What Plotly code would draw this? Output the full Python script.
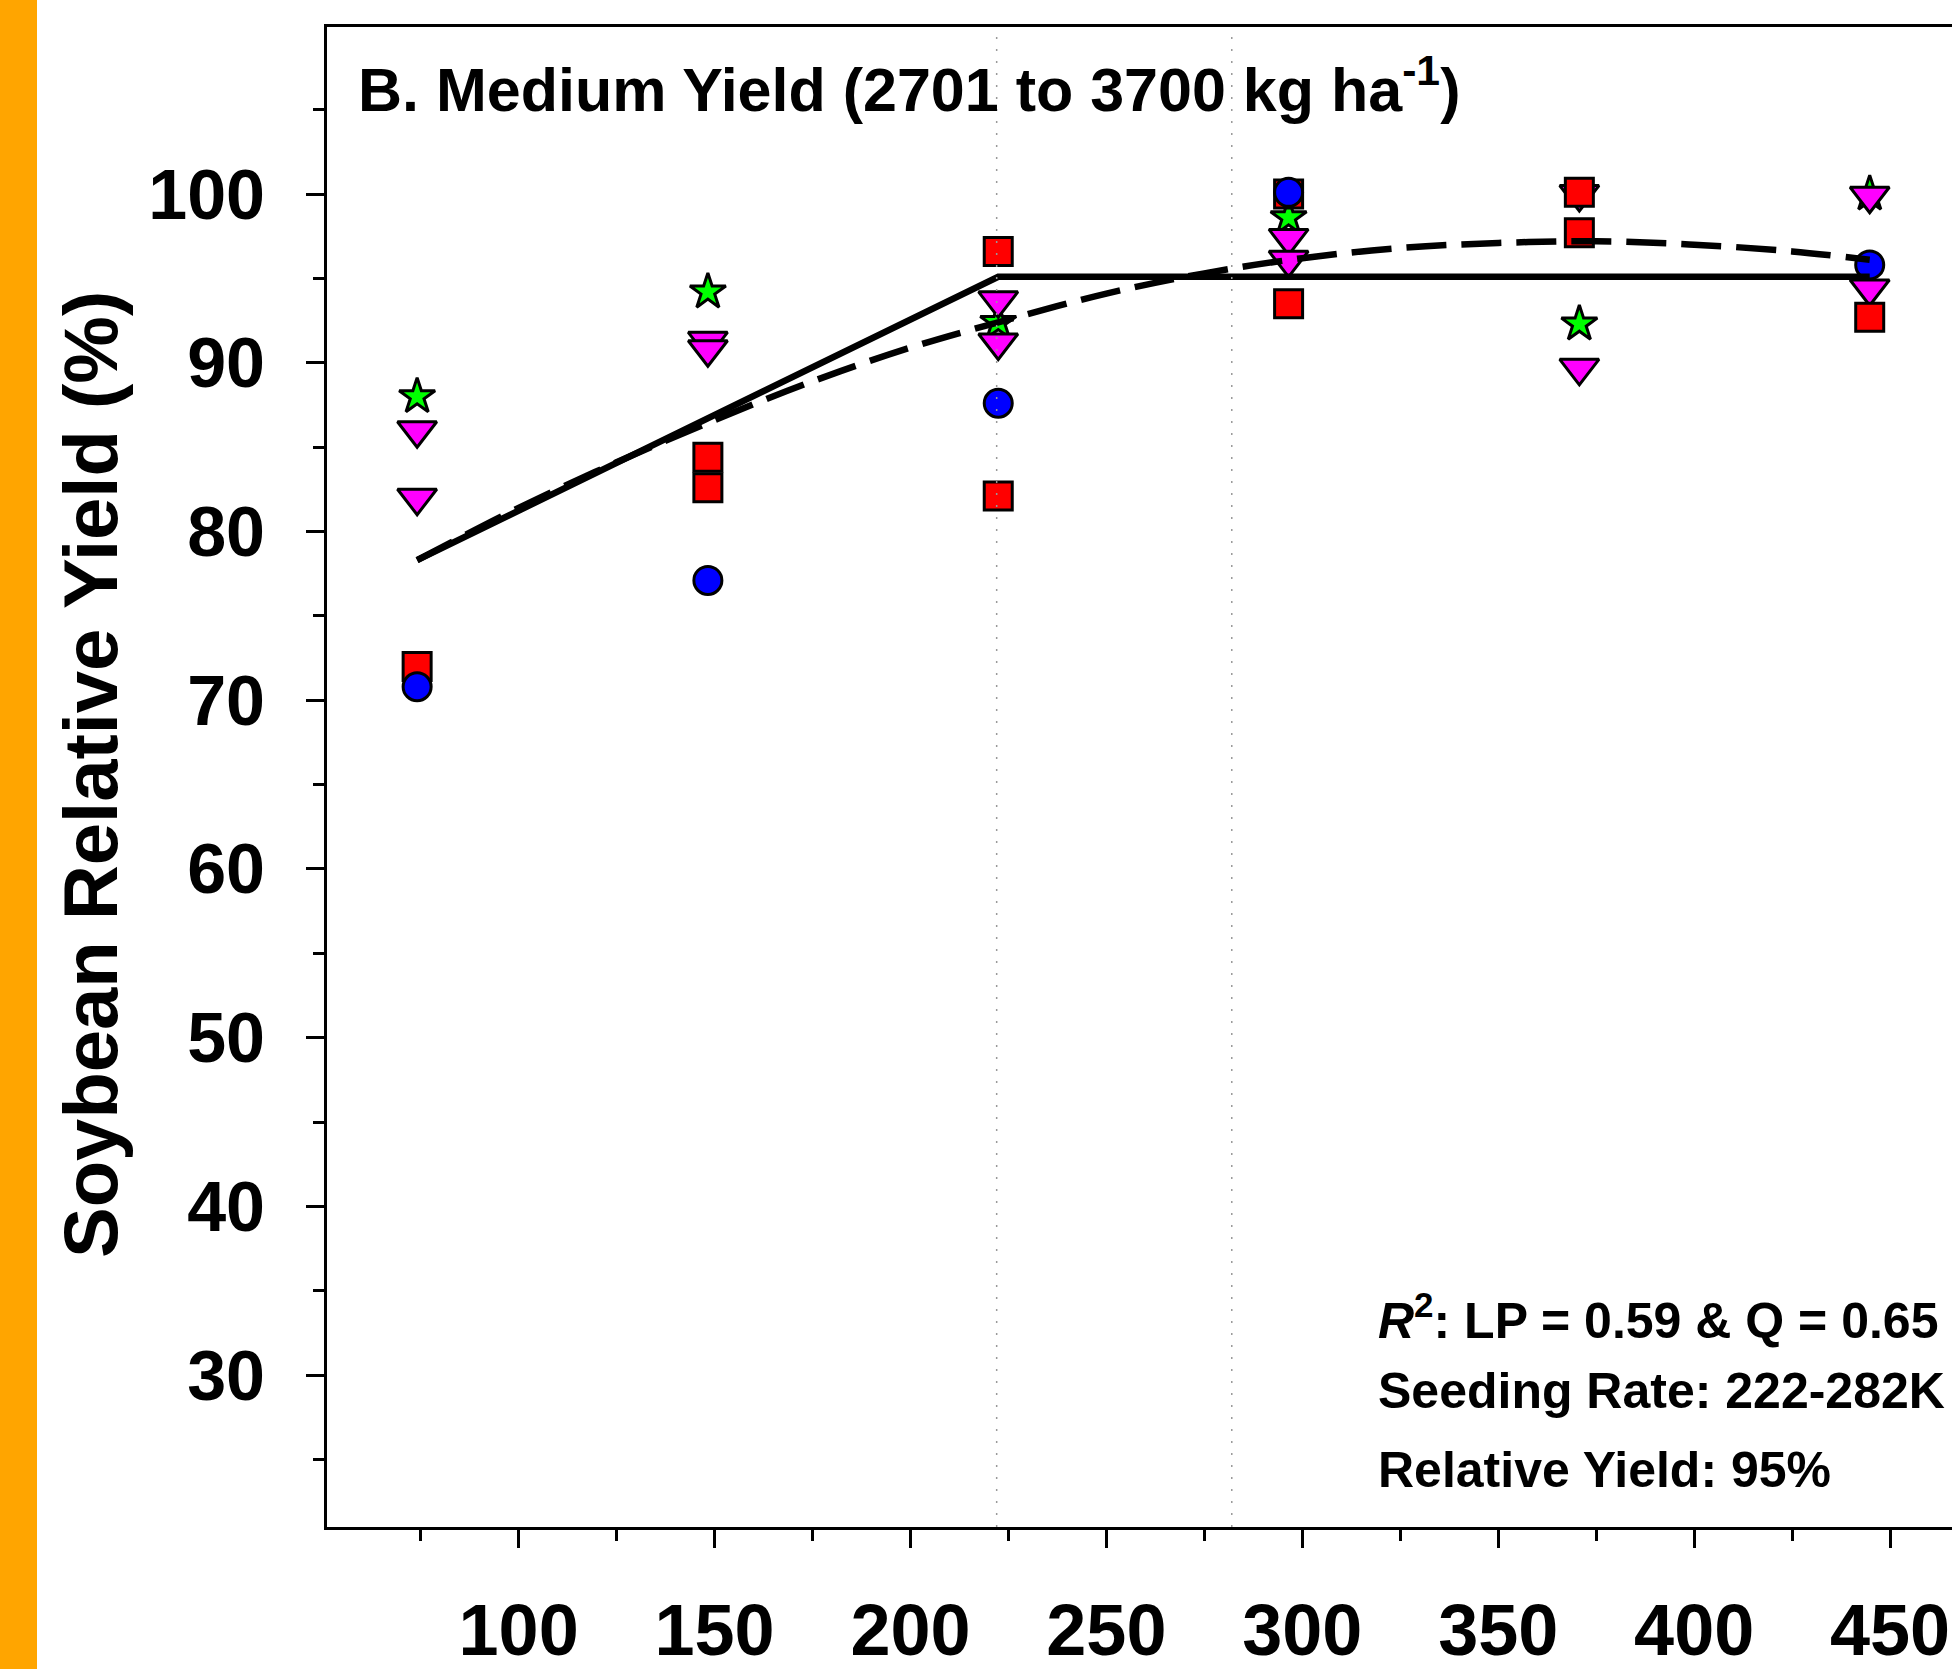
import plotly.graph_objects as go

# ---------------- data ----------------
circle_x = [74.1, 148.3, 222.4, 296.5, 444.8]
circle_y = [70.8, 77.1, 87.6, 100.1, 95.8]

square_x = [74.1, 148.3, 148.3, 222.4, 222.4, 296.5, 296.5, 370.7, 370.7, 444.8]
square_y = [72.0, 84.4, 82.6, 96.6, 82.1, 100.0, 93.5, 100.1, 97.7, 92.7]

star_x = [74.1, 148.3, 222.4, 296.5, 370.7, 444.8]
star_y = [88.0, 94.2, 92.4, 98.6, 92.3, 100.0]

tri_x = [74.1, 74.1, 148.3, 148.3, 222.4, 222.4, 296.5, 296.5, 370.7, 370.7, 444.8, 444.8]
tri_y = [86.0, 82.0, 91.3, 90.8, 93.7, 91.2, 97.4, 96.1, 100.0, 89.7, 99.9, 94.4]

lp_x = [74.1, 222.4, 444.8]
lp_y = [78.3, 95.1, 95.1]

quad_x = [74.1, 100, 125, 150, 175, 200, 222.4, 250, 275, 300, 325, 350, 375, 400, 425, 444.8]
quad_y = [78.3, 81.4, 84.1, 86.6, 88.9, 90.9, 92.4, 94.1, 95.3, 96.2, 96.8, 97.1, 97.2, 97.0, 96.6, 96.1]

threshold_x = [222, 282]

x_ticks = [100, 150, 200, 250, 300, 350, 400, 450]
y_ticks = [30, 40, 50, 60, 70, 80, 90, 100]

title_text = "B. Medium Yield (2701 to 3700 kg ha<sup>-1</sup>)"
ytitle_text = "Soybean Relative Yield (%)"
info_lines = ["<i>R</i><sup>2</sup>: LP = 0.59 & Q = 0.65",
              "Seeding Rate: 222-282K",
              "Relative Yield: 95%"]

# ---------------- layout geometry ----------------
W, H = 1952, 1669
L, T, B = 327, 27, 1527
R = W
PW, PH = R - L, B - T


def px(xpix):
    return (xpix - L) / PW


def py(ypix):
    return (B - ypix) / PH


FONT = "Arial, 'Liberation Sans', Helvetica, sans-serif"

fig = go.Figure()

mk_line = dict(color="black", width=3)
fig.add_trace(go.Scatter(x=star_x, y=star_y, mode="markers",
                         marker=dict(symbol="star", size=27, color="#00FF00", line=mk_line)))
fig.add_trace(go.Scatter(x=tri_x, y=tri_y, mode="markers",
                         marker=dict(symbol="triangle-down", size=34, color="#FF00FF", line=mk_line)))
fig.add_trace(go.Scatter(x=square_x, y=square_y, mode="markers",
                         marker=dict(symbol="square", size=28, color="#FF0000", line=mk_line)))
fig.add_trace(go.Scatter(x=circle_x, y=circle_y, mode="markers",
                         marker=dict(symbol="circle", size=28, color="#0000FF", line=mk_line)))
fig.add_trace(go.Scatter(x=quad_x, y=quad_y, mode="lines",
                         line=dict(color="black", width=6.5, dash="40px,15px", shape="spline")))
fig.add_trace(go.Scatter(x=lp_x, y=lp_y, mode="lines",
                         line=dict(color="black", width=6.5)))

for xv in threshold_x:
    fig.add_shape(type="line", xref="x", yref="paper", x0=xv, x1=xv, y0=0, y1=1,
                  line=dict(color="#999999", width=1.5, dash="2px,10px"), layer="above")

# orange strip at the far left
fig.add_shape(type="rect", xref="paper", yref="paper",
              x0=px(0), x1=px(37), y0=py(H), y1=py(0),
              fillcolor="#FFA500", line=dict(width=0), layer="below")

fig.add_annotation(text=title_text, xref="paper", yref="paper", x=px(356), y=py(85),
                   xanchor="left", yanchor="middle", showarrow=False,
                   font=dict(family=FONT, size=61, color="black", weight="bold"))

fig.add_annotation(text=ytitle_text, xref="paper", yref="paper", x=px(90), y=py(775),
                   xanchor="center", yanchor="middle", textangle=-90, showarrow=False,
                   font=dict(family=FONT, size=76, color="black", weight="bold"))

for line_text, ypix in zip(info_lines, [1317, 1391, 1470]):
    fig.add_annotation(text=line_text, xref="paper", yref="paper", x=px(1376), y=py(ypix),
                       xanchor="left", yanchor="middle", showarrow=False,
                       font=dict(family=FONT, size=50, color="black", weight="bold"))

fig.update_layout(
    width=W, height=H,
    margin=dict(l=L, r=W - R, t=T, b=H - B, pad=0, autoexpand=False),
    paper_bgcolor="white", plot_bgcolor="white",
    showlegend=False,
    font=dict(family=FONT, color="black"),
)

fig.update_xaxes(
    range=[51.1, 465.8], showgrid=False, zeroline=False, automargin=False,
    showline=True, linecolor="black", linewidth=3, mirror=True,
    tickmode="array", tickvals=x_ticks, ticktext=[str(v) for v in x_ticks],
    ticks="outside", ticklen=18, tickwidth=2.5, tickcolor="black",
    minor=dict(dtick=25, tick0=0, ticks="outside", ticklen=11, tickwidth=2.5, tickcolor="black"),
    tickfont=dict(family=FONT, size=72, color="black", weight="bold"),
    ticklabelstandoff=21,
)
fig.update_yaxes(
    range=[21.0, 109.9], showgrid=False, zeroline=False, automargin=False,
    showline=True, linecolor="black", linewidth=3, mirror=False,
    tickmode="array", tickvals=y_ticks, ticktext=[str(v) for v in y_ticks],
    ticks="outside", ticklen=18, tickwidth=2.5, tickcolor="black",
    minor=dict(dtick=5, tick0=0, ticks="outside", ticklen=11, tickwidth=2.5, tickcolor="black"),
    tickfont=dict(family=FONT, size=70, color="black", weight="bold"),
    ticklabelstandoff=27,
)

fig.write_html("out.html")
